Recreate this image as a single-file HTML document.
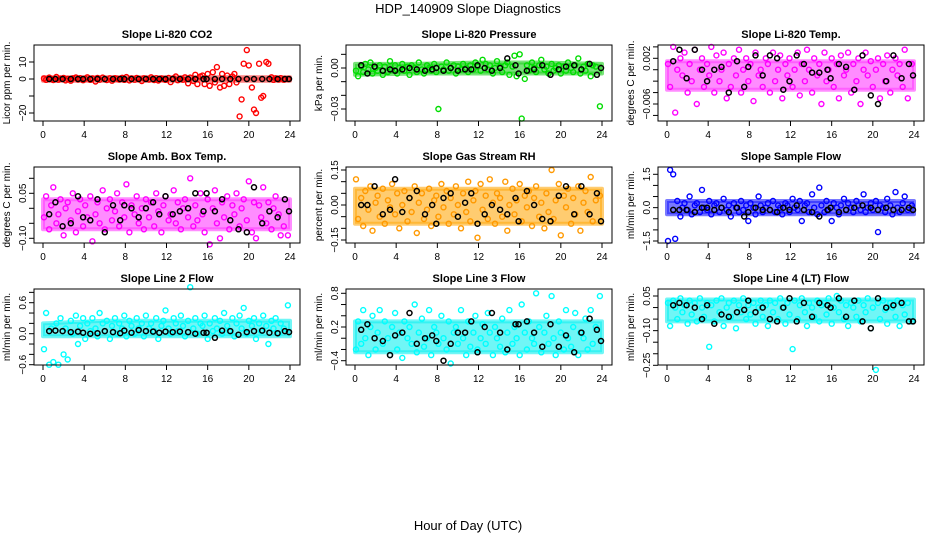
<!DOCTYPE html>
<html><head><meta charset="utf-8"><style>
body{margin:0;background:#fff}
svg{display:block;font-family:"Liberation Sans",Arial,sans-serif}
</style></head><body>
<svg id="chart" width="936" height="540" viewBox="0 0 936 540">
<rect width="936" height="540" fill="#fff"/>
<text x="468" y="13" text-anchor="middle" font-size="13">HDP_140909  Slope Diagnostics</text>
<text x="468" y="530" text-anchor="middle" font-size="13">Hour of Day (UTC)</text>
</svg>
<script>
const xs=[0.1,0.3,0.6,0.8,1.0,1.3,1.5,1.7,2.0,2.2,2.4,2.7,2.9,3.2,3.4,3.6,3.9,4.1,4.3,4.6,4.8,5.1,5.3,5.5,5.8,6.0,6.2,6.5,6.7,7.0,7.2,7.4,7.7,7.9,8.1,8.4,8.6,8.9,9.1,9.3,9.6,9.8,10.0,10.3,10.5,10.8,11.0,11.2,11.5,11.7,11.9,12.2,12.4,12.7,12.9,13.1,13.4,13.6,13.8,14.1,14.3,14.6,14.8,15.0,15.3,15.5,15.7,16.0,16.2,16.5,16.7,16.9,17.2,17.4,17.6,17.9,18.1,18.4,18.6,18.8,19.1,19.3,19.5,19.8,20.0,20.3,20.5,20.7,21.0,21.2,21.4,21.7,21.9,22.2,22.4,22.6,22.9,23.1,23.4,23.8];
const xb=[0.6,1.2,1.9,2.7,3.4,3.9,4.6,5.3,6.0,6.8,7.5,7.9,8.6,9.3,10.0,10.7,11.3,11.9,12.6,13.3,14.1,14.8,15.6,15.9,16.7,17.4,18.2,19.0,19.8,20.5,21.3,22.0,22.8,23.5,23.9];
const xTicks=[0,4,8,12,16,20,24];
const bandX=[0,6,12,18,24];

const co2=[0.3,-0.5,0.8,0,-0.6,1.2,-0.4,0.2,0.6,-0.8,0,-1,0.4,0.9,-0.3,0.5,-0.7,0.2,1,-0.5,0.3,-1.5,0.6,-0.4,0.8,0,-0.6,0.4,-1,0.5,0.2,-0.3,0.7,-0.5,1.1,-0.8,0.3,-0.4,0.6,0,-1.2,0.4,0.2,-0.3,1,-0.6,0.5,-0.9,0.3,0,-0.5,0.6,-1.8,0.4,1.5,-0.7,0.2,-0.4,1,-2.5,0.8,-1.2,2.5,-3,1.5,2,-3,3,-4,4,-2,7,-5,3,-4,2,-3,1.5,3,-2,-22,-12,9,17,8,-5,-18,-20,9,-11,-10,10,9,1,-0.5,0.4,-0.3,0.5,-0.4,0];
const co2b=[0,0,0,0,0,0,0,0,0,0,0,0,0,0,0,0,0,0,0,0,0,0,0,0,0,0,0,0,0,0,0,0,0,0,0];
const co2Lo=[-1,-1,-1,-1,-1], co2Hi=[1,1,1,1,1];
const pres=[-0.002,-0.006,0.001,-0.003,0.003,-0.001,0.004,-0.004,0.000,-0.002,0.002,-0.005,0.001,-0.003,0.005,-0.001,0.002,-0.004,0.000,0.003,-0.002,0.001,-0.005,0.002,0.000,-0.003,0.004,-0.001,-0.004,0.002,0.000,-0.002,0.003,-0.003,-0.030,0.001,-0.001,0.004,-0.002,0.000,0.002,-0.004,0.001,-0.001,0.003,0.000,-0.003,0.002,-0.001,0.004,0.001,-0.002,0.006,0.003,-0.001,0.002,-0.004,0.000,0.005,0.001,-0.003,0.002,0.004,-0.005,0.001,0.009,-0.006,0.010,-0.037,-0.008,0.002,-0.002,0.004,0.000,-0.003,0.002,0.006,-0.001,0.001,-0.004,0.003,-0.002,0.000,0.002,-0.004,0.001,-0.002,0.004,0.000,-0.003,0.002,0.007,-0.004,0.001,-0.002,0.003,-0.006,0.002,0.001,-0.028];
const presb=[0.002,-0.004,0.001,-0.002,-0.001,-0.002,-0.001,0.000,-0.001,-0.002,-0.001,0.000,-0.002,0.000,-0.002,-0.001,-0.001,0.002,0.000,-0.002,0.000,0.007,0.002,-0.004,-0.002,-0.001,0.002,-0.005,-0.001,0.001,0.002,-0.001,0.003,-0.005,0.000];
const presLo=[-0.005,-0.004,-0.004,-0.004,-0.004], presHi=[0.003,0.003,0.004,0.004,0.003];
const temp=[0.001,-0.003,0.004,-0.0075,0.000,0.002,-0.001,0.003,-0.004,0.001,-0.002,0.0035,-0.006,0.000,0.002,-0.003,0.001,-0.001,0.004,-0.004,0.0025,-0.002,0.000,0.003,-0.005,0.001,-0.003,0.002,-0.001,0.0035,-0.004,0.000,0.002,-0.002,0.001,-0.0055,0.003,-0.001,0.000,-0.003,0.002,0.001,-0.004,0.003,-0.002,0.000,0.0025,-0.005,0.001,-0.001,0.002,-0.003,0.000,0.003,-0.0045,0.001,-0.002,0.0035,0.000,-0.004,0.002,-0.001,0.001,-0.006,0.003,-0.002,0.000,0.002,-0.003,0.001,-0.005,0.0025,-0.001,0.000,0.003,-0.004,0.001,-0.002,0.002,-0.006,0.000,0.003,-0.001,0.0015,-0.003,0.000,0.002,-0.005,0.001,-0.002,0.0025,-0.004,0.000,0.002,-0.001,0.001,-0.003,0.0035,-0.005,0.001];
const tempb=[0.0015,0.0035,-0.0015,0.0035,0.000,-0.002,0.000,0.0005,-0.004,0.0015,-0.003,0.0005,0.0025,-0.001,0.0025,0.002,-0.0035,-0.002,0.0025,0.001,-0.0005,-0.0005,0.000,-0.0015,0.001,0.0005,-0.0035,0.0025,-0.0045,-0.006,-0.002,0.0025,-0.0015,0.001,-0.001];
const tempLo=[-0.0035,-0.0035,-0.0035,-0.0035,-0.0035], tempHi=[0.0015,0.0015,0.0015,0.0015,0.0015];
const amb=[-0.03,0.04,-0.07,0.01,0.07,-0.05,-0.02,0.03,-0.09,0.00,0.02,-0.04,0.05,-0.08,-0.01,0.03,-0.06,0.01,-0.03,0.04,-0.11,-0.02,0.02,-0.05,0.06,-0.07,0.00,0.03,-0.04,-0.01,0.05,-0.06,0.02,-0.03,0.08,-0.08,0.01,-0.02,0.04,-0.05,0.00,-0.07,0.03,-0.03,0.02,-0.06,0.05,-0.01,-0.08,0.01,0.04,-0.04,-0.02,0.06,-0.05,0.02,-0.07,0.00,0.03,-0.03,0.10,-0.06,0.01,-0.04,0.05,-0.02,-0.08,0.03,-0.12,0.00,0.06,-0.05,-0.10,0.02,-0.03,0.04,-0.07,0.01,-0.02,0.05,-0.06,0.00,0.03,-0.04,0.09,-0.08,0.02,-0.10,0.01,-0.03,0.07,-0.05,0.02,-0.07,0.00,0.04,-0.02,-0.09,-0.06,-0.09];
const ambb=[-0.02,0.02,-0.06,-0.05,0.04,-0.03,-0.04,0.03,-0.08,0.01,-0.04,0.01,0.00,-0.03,0.00,0.02,-0.02,0.04,-0.02,-0.01,0.00,0.05,-0.01,0.05,-0.01,0.03,-0.04,-0.07,-0.08,0.07,-0.05,-0.01,-0.03,0.03,-0.01];
const ambLo=[-0.07,-0.07,-0.07,-0.07,-0.07], ambHi=[0.03,0.03,0.03,0.03,0.03];
const rh=[0.11,-0.06,0.03,-0.09,0.06,-0.02,0.08,-0.11,0.01,0.04,-0.05,0.07,-0.08,0.02,-0.01,0.09,-0.04,0.05,-0.10,0.00,0.06,-0.07,0.03,-0.03,0.08,-0.12,0.01,0.05,-0.06,-0.02,0.07,-0.09,0.02,0.04,-0.05,0.09,-0.01,0.06,-0.08,0.03,-0.04,0.08,0.00,-0.10,0.05,-0.03,0.10,-0.07,0.02,0.06,-0.14,0.09,-0.02,0.04,-0.06,0.11,0.01,-0.08,0.05,0.03,-0.05,0.10,-0.11,0.00,0.07,-0.04,0.02,0.09,-0.07,0.04,-0.01,0.06,-0.09,0.03,0.08,-0.05,0.01,-0.10,0.05,-0.03,0.15,-0.06,0.02,0.09,-0.13,0.04,-0.01,0.07,-0.08,0.03,-0.04,0.08,-0.11,0.01,0.06,-0.03,0.12,-0.07,0.02,0.04];
const rhb=[0.00,0.00,0.08,-0.04,-0.02,0.11,-0.03,0.03,0.06,-0.04,0.00,-0.08,0.03,0.05,-0.05,0.01,0.05,-0.08,-0.04,0.00,-0.02,-0.04,0.03,-0.07,0.06,0.00,-0.06,-0.07,0.04,0.08,-0.04,0.08,-0.04,0.05,-0.07];
const rhLo=[-0.08,-0.08,-0.08,-0.08,-0.08], rhHi=[0.07,0.07,0.07,0.07,0.07];
const samp=[-1.5,1.7,1.5,-1.4,0.3,-0.4,0.0,0.2,-0.1,0.5,-0.3,0.1,0.2,-0.2,0.8,0.0,-0.1,0.3,-0.3,0.1,0.2,-0.2,0.0,0.4,-0.1,0.1,-0.4,0.2,0.0,-0.2,0.3,-0.1,0.1,-0.6,0.2,0.0,-0.3,0.5,0.1,-0.2,0.0,0.2,-0.1,0.3,-0.2,0.1,0.0,-0.3,0.2,0.1,-0.2,0.4,0.0,-0.1,0.3,-0.6,0.1,0.2,-0.2,0.6,0.0,-0.3,0.9,0.1,-0.2,0.3,-0.1,-0.6,0.2,0.0,-0.3,0.1,0.4,-0.1,0.2,0.0,-0.2,0.3,0.1,-0.1,0.6,-0.2,0.0,0.2,-0.1,0.3,-1.1,0.1,0.0,-0.2,0.4,0.1,-0.3,0.7,0.0,-0.2,0.2,0.5,-0.1,0.1];
const sampb=[-0.1,-0.1,-0.1,-0.2,0.0,0.0,-0.1,0.0,-0.2,0.0,-0.4,-0.2,0.0,-0.1,-0.1,-0.2,0.0,-0.1,0.1,-0.1,-0.2,-0.4,-0.1,0.0,-0.2,-0.1,0.0,0.1,0.0,-0.1,0.0,-0.1,-0.1,0.0,-0.1];
const sampLo=[-0.3,-0.3,-0.3,-0.3,-0.3], sampHi=[0.3,0.3,0.3,0.3,0.3];
const line2=[-0.3,0.4,-0.6,0.1,-0.55,0.2,-0.6,0.3,-0.4,0.1,-0.5,0.25,0.0,0.35,-0.2,0.15,0.3,-0.1,0.2,0.05,0.3,0.1,-0.05,0.4,0.2,0.05,0.25,-0.1,0.15,0.3,0.0,0.2,0.1,0.35,-0.05,0.25,0.15,0.0,0.3,0.1,0.2,-0.05,0.35,0.1,0.2,0.05,0.3,-0.1,0.15,0.25,0.45,0.1,0.0,0.3,0.2,0.05,0.35,0.15,-0.05,0.25,0.9,0.1,0.3,0.0,0.2,0.15,0.35,-0.1,0.2,0.05,0.3,0.1,0.25,0.0,0.4,0.15,0.05,0.3,-0.05,0.2,0.35,0.1,0.5,0.0,0.25,0.15,0.3,-0.1,0.2,0.05,0.35,0.15,-0.2,0.25,0.1,0.3,0.0,0.2,0.1,0.55];
const line2b=[0.05,0.06,0.05,0.03,0.04,0.02,0.0,0.01,0.05,0.03,0.01,0.06,0.02,0.07,0.05,0.04,0.02,0.04,0.03,0.04,0.03,0.0,0.02,0.02,-0.08,0.06,0.05,-0.02,0.03,0.05,0.06,0.02,0.01,0.05,0.03];
const line2Lo=[-0.05,-0.05,-0.05,-0.05,-0.05], line2Hi=[0.2,0.25,0.25,0.25,0.25];
const line3=[-0.2,0.3,-0.1,0.5,0.0,-0.3,0.2,0.4,-0.2,0.1,0.5,-0.1,0.3,0.0,-0.3,0.2,0.45,-0.2,0.1,-0.35,0.3,0.0,0.2,-0.1,0.6,-0.25,0.1,0.35,-0.15,0.0,0.5,-0.3,0.2,0.1,-0.1,0.4,0.0,-0.2,0.3,-0.45,0.1,0.2,-0.1,0.5,0.0,-0.3,0.3,-0.15,0.1,0.4,-0.2,0.0,0.25,-0.1,0.45,0.1,-0.3,0.2,0.0,-0.15,0.35,-0.25,0.1,0.5,-0.1,0.2,0.0,-0.3,0.6,0.1,-0.2,0.3,0.0,-0.1,0.8,0.2,-0.25,0.1,0.4,-0.1,0.75,0.0,-0.3,0.3,0.1,-0.2,0.5,0.0,-0.15,0.2,0.45,-0.3,0.1,0.0,0.35,-0.2,0.5,-0.1,0.2,0.75];
const line3b=[0.15,0.25,0.0,-0.05,-0.3,0.05,0.1,0.45,-0.1,0.0,0.05,-0.05,-0.4,-0.1,0.1,0.1,0.3,-0.25,0.2,0.45,0.1,-0.2,0.25,0.25,0.3,0.1,-0.15,0.25,-0.15,0.05,-0.25,0.1,0.35,0.15,-0.05];
const line3Lo=[-0.25,-0.25,-0.25,-0.25,-0.25], line3Hi=[0.3,0.3,0.3,0.3,0.3];
const line4=[0.02,-0.08,0.03,0.0,-0.05,0.04,-0.02,0.01,-0.07,0.03,-0.03,0.02,-0.06,0.04,0.0,-0.04,0.02,-0.17,0.01,-0.06,0.03,-0.02,0.04,-0.08,0.0,0.02,-0.04,0.03,-0.09,0.01,-0.02,0.04,-0.05,0.01,-0.03,0.02,-0.07,0.0,0.03,-0.04,0.01,-0.08,0.03,-0.02,0.02,-0.05,0.04,0.0,-0.07,0.02,-0.03,-0.18,0.03,-0.05,0.01,0.04,-0.02,-0.08,0.02,0.0,-0.04,0.03,-0.06,0.01,0.02,-0.03,0.04,-0.07,0.0,0.05,-0.02,0.03,-0.05,0.01,-0.08,0.02,0.0,-0.04,0.03,-0.06,0.01,-0.02,0.04,-0.09,0.0,-0.27,0.02,-0.05,0.03,-0.01,-0.07,0.02,0.0,-0.04,0.03,-0.08,0.01,-0.03,0.02,-0.06];
const line4b=[0.01,0.02,0.01,0.0,-0.05,0.01,-0.07,-0.03,-0.04,-0.02,-0.01,0.03,-0.02,0.0,-0.05,-0.06,0.0,0.04,-0.06,0.02,-0.04,0.02,0.01,0.0,0.04,-0.04,0.03,-0.06,-0.09,0.04,0.0,0.01,0.02,-0.06,-0.06];
const line4Lo=[-0.06,-0.06,-0.06,-0.06,-0.06], line4Hi=[0.035,0.035,0.035,0.035,0.035];

const ticks1=[-20,-10,0,10], labels1=['-20','','0','10'];
const ticks2=[0.01,0,-0.01,-0.02,-0.03], labels2=['','0.00','','','-0.03'];
const ticks3=[0.004,0.002,0,-0.002,-0.004,-0.006,-0.008], labels3=['','0.002','','','','-0.006',''];
const ticks4=[0.10,0.05,0,-0.05,-0.10], labels4=['','0.05','','','-0.10'];
const ticks5=[0.15,0.10,0.05,0,-0.05,-0.10,-0.15], labels5=['0.15','','','0.00','','','-0.15'];
const ticks6=[1.5,1.0,0.5,0,-0.5,-1.0,-1.5], labels6=['1.5','','','0.0','','','-1.5'];
const ticks7=[0.8,0.6,0.4,0.2,0,-0.2,-0.4,-0.6], labels7=['','0.6','','','0.0','','','-0.6'];
const ticks8=[0.8,0.6,0.4,0.2,0,-0.2,-0.4], labels8=['0.8','','','0.2','','','-0.4'];
const ticks9=[0.05,0,-0.05,-0.10,-0.15,-0.20,-0.25], labels9=['0.05','','','-0.10','','','-0.25'];

const panels=[
 {id:'co2',title:'Slope Li-820 CO2',ylab:'Licor ppm per min.',col:0,row:0,color:'#ff0000',band:'#ff3030',ys:co2,yb:co2b,lo:co2Lo,hi:co2Hi,tk:ticks1,lb:labels1,v0:0,p0:79,v1:10,p1:62},
 {id:'pressure',title:'Slope Li-820 Pressure',ylab:'kPa per min.',col:1,row:0,color:'#00dd00',band:'#20d020',ys:pres,yb:presb,lo:presLo,hi:presHi,tk:ticks2,lb:labels2,v0:0,p0:68,v1:-0.03,p1:109},
 {id:'temp',title:'Slope Li-820 Temp.',ylab:'degrees C per min.',col:2,row:0,color:'#ff00ff',band:'#ff40ff',ys:temp,yb:tempb,lo:tempLo,hi:tempHi,tk:ticks3,lb:labels3,v0:0.002,p0:58.3,v1:-0.006,p1:104},
 {id:'amb-box-temp',title:'Slope Amb. Box Temp.',ylab:'degrees C per min.',col:0,row:1,color:'#ff00ff',band:'#ff40ff',ys:amb,yb:ambb,lo:ambLo,hi:ambHi,tk:ticks4,lb:labels4,v0:0.05,p0:193.3,v1:-0.10,p1:238.3},
 {id:'gas-stream-rh',title:'Slope Gas Stream RH',ylab:'percent per min.',col:1,row:1,color:'#ff9900',band:'#ffaa10',ys:rh,yb:rhb,lo:rhLo,hi:rhHi,tk:ticks5,lb:labels5,v0:0,p0:205,v1:0.15,p1:170},
 {id:'sample-flow',title:'Slope Sample Flow',ylab:'ml/min per min.',col:2,row:1,color:'#0000ff',band:'#2020ff',ys:samp,yb:sampb,lo:sampLo,hi:sampHi,tk:ticks6,lb:labels6,v0:1.5,p0:174.3,v1:-1.5,p1:241},
 {id:'line2-flow',title:'Slope Line 2 Flow',ylab:'ml/min per min.',col:0,row:2,color:'#00ffff',band:'#10f0f0',ys:line2,yb:line2b,lo:line2Lo,hi:line2Hi,tk:ticks7,lb:labels7,v0:0,p0:333.7,v1:0.6,p1:302.7},
 {id:'line3-flow',title:'Slope Line 3 Flow',ylab:'ml/min per min.',col:1,row:2,color:'#00ffff',band:'#10f0f0',ys:line3,yb:line3b,lo:line3Lo,hi:line3Hi,tk:ticks8,lb:labels8,v0:0.8,p0:293.3,v1:-0.4,p1:360.7},
 {id:'line4-flow',title:'Slope Line 4 (LT) Flow',ylab:'ml/min per min.',col:2,row:2,color:'#00ffff',band:'#10f0f0',ys:line4,yb:line4b,lo:line4Lo,hi:line4Hi,tk:ticks9,lb:labels9,v0:0.05,p0:296,v1:-0.25,p1:365.3}
];

const svg=document.getElementById('chart');
const NS='http://www.w3.org/2000/svg';
function mk(tag,attrs,parent){const e=document.createElementNS(NS,tag);for(const k in attrs)e.setAttribute(k,attrs[k]);(parent||svg).appendChild(e);return e;}

panels.forEach(p=>{
  const left=34+p.col*312, right=left+266, top=45+p.row*122, bottom=top+76;
  const xpx=h=>left+9+h*247/24;
  const ypx=v=>p.p0+(v-p.v0)*(p.p1-p.p0)/(p.v1-p.v0);
  const g=mk('g',{});
  
  
  const t=mk('text',{x:(left+right)/2,y:top-7,'text-anchor':'middle','font-size':11,'font-weight':'bold'},g);
  t.textContent=p.title;
  
  
  const yt=mk('text',{x:0,y:0,'text-anchor':'middle','font-size':10,transform:`translate(${left-24},${(top+bottom)/2}) rotate(-90)`},g);
  yt.textContent=p.ylab;
  
  
  let d='';
  bandX.forEach((h,i)=>{d+=(i?'L':'M')+xpx(h).toFixed(1)+','+ypx(p.hi[i]).toFixed(1);});
  for(let i=bandX.length-1;i>=0;i--){d+='L'+xpx(bandX[i]).toFixed(1)+','+ypx(p.lo[i]).toFixed(1);}
  const band=mk('path',{d:d+'Z',fill:p.band,'fill-opacity':0.6,stroke:p.band,'stroke-width':4,'stroke-opacity':0.6,'stroke-linejoin':'round'},g);
  
  
  const pts=mk('g',{fill:'none'},g);
  
  
  for(let i=0;i<Math.min(xs.length,p.ys.length);i++){
    const c=mk('circle',{cx:xpx(xs[i]).toFixed(1),cy:ypx(p.ys[i]).toFixed(1),r:2.5,stroke:p.color,'stroke-width':1.4},pts);
    
    
  }
  const bpts=mk('g',{fill:'none'},g);
  
  
  for(let i=0;i<Math.min(xb.length,p.yb.length);i++){
    const c=mk('circle',{cx:xpx(xb[i]).toFixed(1),cy:ypx(p.yb[i]).toFixed(1),r:2.5,stroke:'#000','stroke-width':1.5},bpts);
    
    
  }
  const box=mk('rect',{x:left,y:top,width:266,height:76,fill:'none',stroke:'#000','stroke-width':1},g);
  
  
  xTicks.forEach(h=>{
    const x=xpx(h);
    mk('line',{x1:x,x2:x,y1:bottom,y2:bottom+5,stroke:'#000'},g);
    const l=mk('text',{x:x,y:bottom+17,'text-anchor':'middle','font-size':10},g);
    l.textContent=h;
    
    
  });
  p.tk.forEach((v,i)=>{
    const y=ypx(v);
    mk('line',{x1:left-5,x2:left,y1:y,y2:y,stroke:'#000'},g);
    if(p.lb[i]){
      const l=mk('text',{x:0,y:0,'text-anchor':'middle','font-size':10,transform:`translate(${left-8},${y}) rotate(-90)`},g);
      l.textContent=p.lb[i].replace('-','\u2212');
      
      
    }
  });
});
</script>
</body></html>
